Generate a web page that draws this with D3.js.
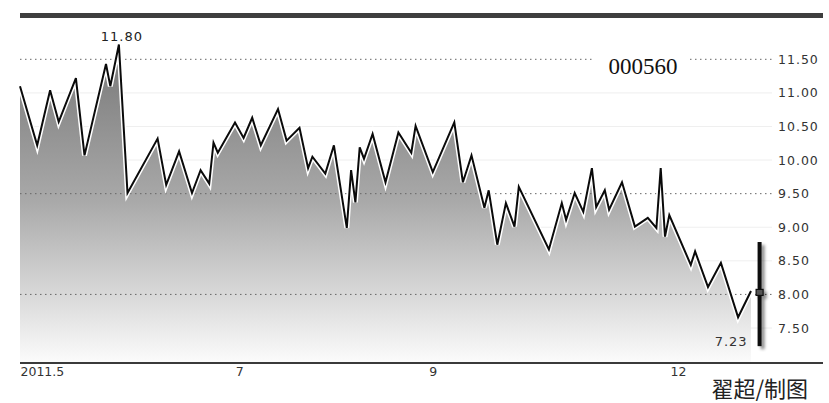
<!DOCTYPE html>
<html>
<head>
<meta charset="utf-8">
<title>000560</title>
<style>
  body { margin: 0; background: #fff; }
  svg { display: block; }
</style>
</head>
<body>
<svg id="chart"></svg>
<script src="https://cdn.jsdelivr.net/npm/d3@7/dist/d3.min.js"></script>
<script>
// 交易日序号与收盘价
const dayIdx = [0, 4, 7, 9, 13, 15, 20, 21, 23, 25, 32, 34, 37, 40, 42, 44, 45, 46, 50, 52,
  54, 56, 60, 62, 65, 67, 68, 71, 73, 76, 77, 78, 79, 80, 82, 85, 88, 91, 92, 96,
  101, 103, 105, 108, 109, 111, 113, 115, 116, 123, 126, 127, 129, 131, 133, 134, 136, 137, 140, 143,
  146, 148, 149, 150, 151, 156, 157, 160, 163, 167, 170];
const closes = [11.10, 10.22, 11.04, 10.57, 11.22, 10.07, 11.43, 11.10, 11.72, 9.51, 10.32, 9.63, 10.13, 9.51, 9.85, 9.65, 10.26, 10.11, 10.56, 10.33,
  10.63, 10.22, 10.76, 10.29, 10.48, 9.88, 10.05, 9.80, 10.22, 8.99, 9.85, 9.37, 10.19, 10.02, 10.39, 9.67, 10.41, 10.11, 10.51, 9.82,
  10.56, 9.67, 10.07, 9.29, 9.55, 8.74, 9.36, 9.01, 9.60, 8.67, 9.36, 9.11, 9.51, 9.23, 9.88, 9.30, 9.55, 9.26, 9.67, 9.01,
  9.14, 8.99, 9.88, 8.86, 9.18, 8.44, 8.64, 8.11, 8.47, 7.66, 8.05];

// 最后一根K线：位置、最高、最低、收盘
const lastBar = { day: 172, high: 8.78, low: 7.23, close: 8.03 };

const xTickDays = [0, 51, 96, 153];
const xTickLabels = ["2011.5", "7", "9", "12"];
const yTicks = [7.5, 8.0, 8.5, 9.0, 9.5, 10.0, 10.5, 11.0, 11.5];
const dottedLevels = [8.0, 9.5, 11.5];
const peakLabel = "11.80";
const lowLabel = "7.23";

const width = 829, height = 403;
const plotLeft = 20, plotRight = 823, plotTop = 18, plotBottom = 363;

const svg = d3.select("#chart")
  .attr("width", width)
  .attr("height", height)
  .style("font-family", "'DejaVu Sans', sans-serif");

const x = d3.scaleLinear().domain([0, 172]).range([plotLeft, 759.6]);
const y = d3.scaleLinear().domain([6.979, 12.115]).range([plotBottom, plotTop]);

const data = dayIdx.map((d, i) => ({ d: d, v: closes[i] }));

const defs = svg.append("defs");
const grad = defs.append("linearGradient")
  .attr("id", "fillGrad")
  .attr("gradientUnits", "userSpaceOnUse")
  .attr("x1", 0).attr("x2", 0)
  .attr("y1", 40).attr("y2", 362);
grad.append("stop").attr("offset", "0%").attr("stop-color", "#767676");
grad.append("stop").attr("offset", "50%").attr("stop-color", "#a9a9a9");
grad.append("stop").attr("offset", "100%").attr("stop-color", "#fbfbfb");

const shadow = defs.append("filter").attr("id", "shadow")
  .attr("x", "-100%").attr("y", "-10%").attr("width", "400%").attr("height", "120%");
shadow.append("feDropShadow")
  .attr("dx", 3).attr("dy", 3)
  .attr("stdDeviation", 1.5)
  .attr("flood-opacity", 0.45);

// 淡网格线
svg.append("g")
  .selectAll("line")
  .data(yTicks.filter(v => !dottedLevels.includes(v)))
  .join("line")
    .attr("x1", plotLeft).attr("x2", 772)
    .attr("y1", d => y(d)).attr("y2", d => y(d))
    .attr("stroke", "#e4e4e4")
    .attr("stroke-width", 1)
    .attr("opacity", 0.6);

// 面积
const area = d3.area()
  .x(d => x(d.d))
  .y0(plotBottom)
  .y1(d => y(d.v));

svg.append("path")
  .datum(data)
  .attr("d", area)
  .attr("fill", "url(#fillGrad)");

// 点状网格线
svg.append("g")
  .selectAll("line")
  .data(dottedLevels)
  .join("line")
    .attr("x1", plotLeft).attr("x2", 774)
    .attr("y1", d => y(d)).attr("y2", d => y(d))
    .attr("stroke", "#666")
    .attr("stroke-width", 1)
    .attr("stroke-dasharray", "1.5,3.5");

// 折线：白色描边 + 黑线
const line = d3.line()
  .x(d => x(d.d))
  .y(d => y(d.v));

svg.append("path")
  .datum(data)
  .attr("d", line)
  .attr("fill", "none")
  .attr("stroke", "#fff")
  .attr("stroke-width", 5)
  .attr("stroke-linejoin", "miter");

svg.append("path")
  .datum(data)
  .attr("d", line)
  .attr("fill", "none")
  .attr("stroke", "#0a0a0a")
  .attr("stroke-width", 2)
  .attr("stroke-linejoin", "miter");

// 最后一根K线
const bar = svg.append("g").attr("filter", "url(#shadow)");
bar.append("rect")
  .attr("x", x(lastBar.day) - 2)
  .attr("y", y(lastBar.high))
  .attr("width", 4)
  .attr("height", y(lastBar.low) - y(lastBar.high))
  .attr("fill", "#111");
bar.append("rect")
  .attr("x", x(lastBar.day) - 3.5)
  .attr("y", y(lastBar.close) - 3)
  .attr("width", 7)
  .attr("height", 6)
  .attr("fill", "#555")
  .attr("stroke", "#111")
  .attr("stroke-width", 1.2);

// 顶部粗线
svg.append("rect")
  .attr("x", plotLeft).attr("y", 13)
  .attr("width", plotRight - plotLeft).attr("height", 5)
  .attr("fill", "#3e3e3e");

// 底部坐标轴
const xAxis = svg.append("g")
  .attr("transform", `translate(0,${plotBottom})`)
  .call(d3.axisBottom(x)
    .tickValues(xTickDays)
    .tickFormat((d, i) => xTickLabels[i])
    .tickSize(0)
    .tickPadding(4));
xAxis.select(".domain").remove();
xAxis.append("line")
  .attr("x1", plotLeft).attr("x2", plotRight)
  .attr("stroke", "#3a3a3a")
  .attr("stroke-width", 2);
xAxis.selectAll("text")
  .attr("font-size", 12.5)
  .attr("fill", "#333")
  .attr("font-family", "'DejaVu Sans', sans-serif");
xAxis.selectAll(".tick").filter((d, i) => i === 0).select("text")
  .attr("text-anchor", "start");

// 右侧价格轴
const yAxis = svg.append("g")
  .attr("transform", "translate(774,0)")
  .call(d3.axisRight(y)
    .tickValues(yTicks)
    .tickFormat(d3.format(".2f"))
    .tickSize(0)
    .tickPadding(4));
yAxis.select(".domain").remove();
yAxis.selectAll("text")
  .attr("font-size", 12.5)
  .attr("fill", "#333")
  .attr("letter-spacing", "1px")
  .attr("font-family", "'DejaVu Sans', sans-serif");

// 最高价、最低价标注
const peak = data[d3.maxIndex(data, d => d.v)];
svg.append("text")
  .attr("x", x(peak.d) + 3)
  .attr("y", y(peak.v) - 4)
  .attr("text-anchor", "middle")
  .attr("font-size", 13)
  .attr("letter-spacing", "1px")
  .attr("fill", "#222")
  .text(peakLabel);

svg.append("text")
  .attr("x", x(lastBar.day) - 12)
  .attr("y", y(lastBar.low))
  .attr("text-anchor", "end")
  .attr("font-size", 13)
  .attr("letter-spacing", "1px")
  .attr("fill", "#333")
  .text(lowLabel);

// 股票代码
svg.append("rect")
  .attr("x", 594).attr("y", 52)
  .attr("width", 94).attr("height", 24)
  .attr("fill", "#fff");
svg.append("text")
  .attr("x", 643).attr("y", 74)
  .attr("text-anchor", "middle")
  .attr("font-family", "'Liberation Serif', serif")
  .attr("font-size", 23)
  .attr("fill", "#111")
  .text("000560");

// 署名
svg.append("text")
  .attr("x", 808).attr("y", 397)
  .attr("text-anchor", "end")
  .attr("font-family", "'Noto Sans CJK SC', sans-serif")
  .attr("font-size", 22)
  .attr("fill", "#222")
  .text("翟超/制图");
</script>
</body>
</html>
